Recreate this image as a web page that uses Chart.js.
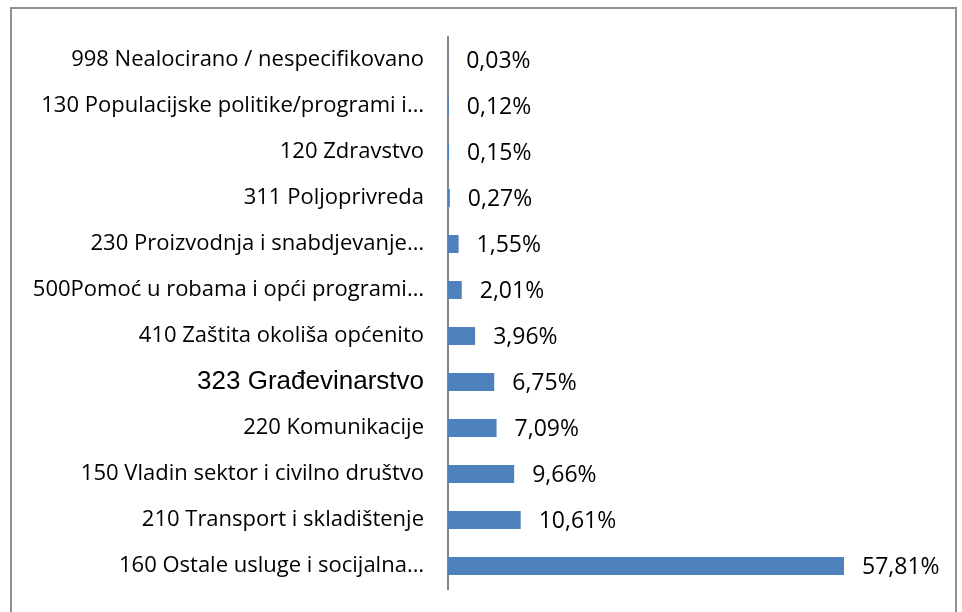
<!DOCTYPE html>
<html>
<head>
<meta charset="utf-8">
<script src="https://cdn.jsdelivr.net/npm/chart.js@4"></script>
<style>
  body { margin: 0; background: #fff; }
  #wrap { position: relative; width: 962px; height: 612px; overflow: hidden; }
  #frame { position: absolute; left: 10px; top: 7px; width: 947px; height: 640px; border: 2px solid #8f8f8f; box-sizing: border-box; }
  canvas { position: absolute; left: 0; top: 0; }
</style>
</head>
<body>
<div id="wrap">
  <div id="frame"></div>
  <canvas id="myBarChart" width="962" height="612"></canvas>
</div>
<script>
var categories = [
    '998 Nealocirano / nespecifikovano',
    '130 Populacijske politike/programi i…',
    '120 Zdravstvo',
    '311 Poljoprivreda',
    '230 Proizvodnja i snabdjevanje…',
    '500Pomoć u robama i opći programi…',
    '410 Zaštita okoliša općenito',
    '323 Građevinarstvo',
    '220 Komunikacije',
    '150 Vladin sektor i civilno društvo',
    '210 Transport i skladištenje',
    '160 Ostale usluge i socijalna…'
];
var shares = [0.03, 0.12, 0.15, 0.27, 1.55, 2.01, 3.96, 6.75, 7.09, 9.66, 10.61, 57.81];

var labelFont = '"Open Sans", "Noto Sans", sans-serif';

// draws the percentage next to each bar
var valueLabels = {
    id: 'valueLabels',
    afterDatasetsDraw: function(chart) {
        var ctx = chart.ctx;
        var meta = chart.getDatasetMeta(0);
        ctx.save();
        ctx.font = '23px ' + labelFont;
        ctx.fillStyle = '#000';
        ctx.textBaseline = 'middle';
        ctx.textAlign = 'left';
        meta.data.forEach(function(bar, i) {
            var txt = shares[i].toFixed(2).replace('.', ',') + '%';
            ctx.fillText(txt, bar.x + 18, bar.y + 1);
        });
        ctx.restore();
    }
};

document.addEventListener("DOMContentLoaded", function() {
    var ctx = document.getElementById('myBarChart').getContext('2d');
    new Chart(ctx, {
        type: 'bar',
        data: {
            labels: categories,
            datasets: [{
                data: shares,
                backgroundColor: '#4F81BD',
                barPercentage: 0.39,
                categoryPercentage: 1
            }]
        },
        options: {
            indexAxis: 'y',
            responsive: false,
            animation: false,
            layout: { padding: { top: 37, bottom: 23, left: 0, right: 103 } },
            plugins: {
                legend: { display: false },
                tooltip: { enabled: false }
            },
            scales: {
                x: { display: false, min: 0, max: 60 },
                y: {
                    grid: { display: false, drawTicks: false },
                    border: { display: true, color: '#868686', width: 2 },
                    afterFit: function(scale) {
                        scale.width = 448;
                        scale.paddingTop = 0;
                        scale.paddingBottom = 0;
                    },
                    ticks: {
                        padding: 24,
                        color: '#000',
                        font: function(c) {
                            if (c.index === 7) return { family: '"Liberation Sans", Arial, sans-serif', size: 26 };
                            return { family: labelFont, size: 22 };
                        }
                    }
                }
            }
        },
        plugins: [valueLabels]
    });
});
</script>
</body>
</html>
